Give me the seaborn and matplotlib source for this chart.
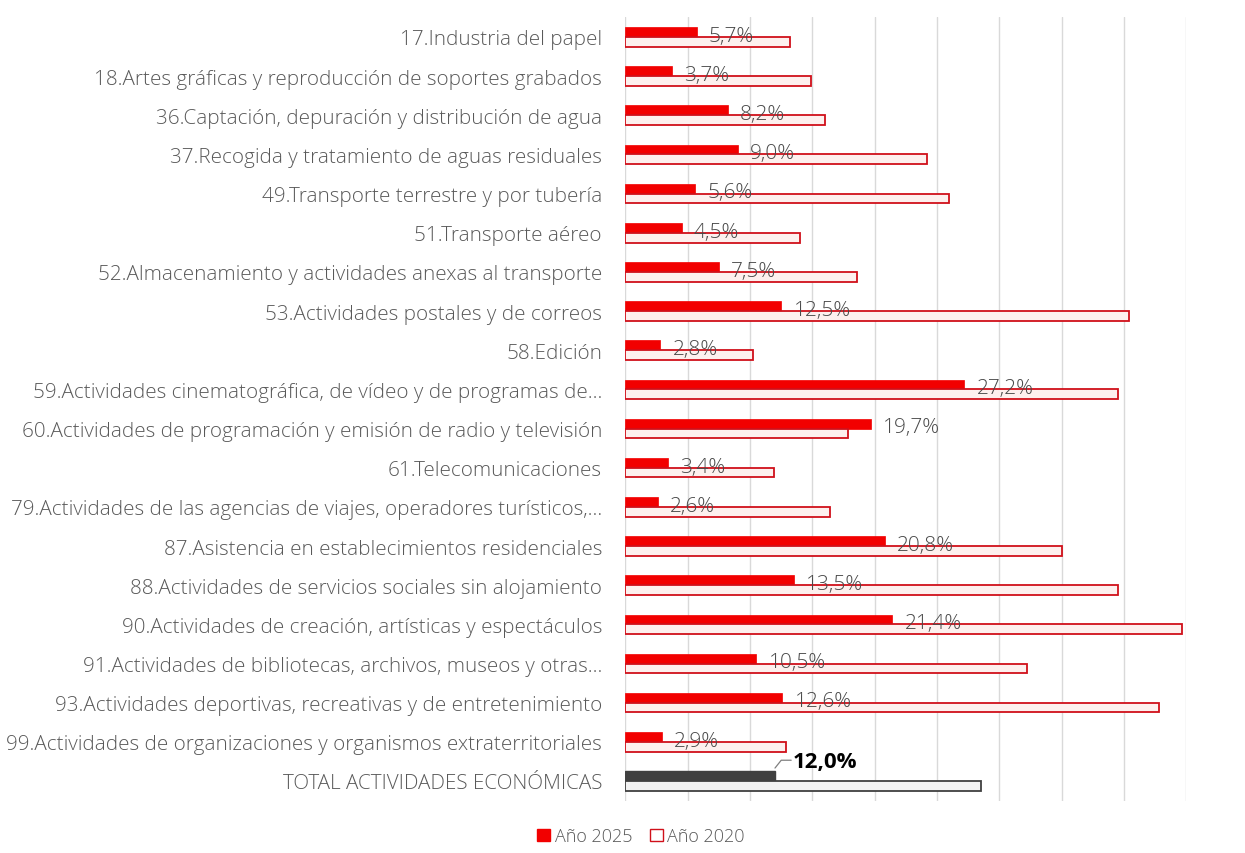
import matplotlib
matplotlib.use("Agg")
import matplotlib.pyplot as plt
import seaborn as sns
import pandas as pd
from matplotlib.patches import Patch

categories = [
    "17.Industria del papel",
    "18.Artes gráficas y reproducción de soportes grabados",
    "36.Captación, depuración y distribución de agua",
    "37.Recogida y tratamiento de aguas residuales",
    "49.Transporte terrestre y por tubería",
    "51.Transporte aéreo",
    "52.Almacenamiento y actividades anexas al transporte",
    "53.Actividades postales y de correos",
    "58.Edición",
    "59.Actividades cinematográfica, de vídeo y de programas de...",
    "60.Actividades de programación y emisión de radio y televisión",
    "61.Telecomunicaciones",
    "79.Actividades de las agencias de viajes, operadores turísticos,...",
    "87.Asistencia en establecimientos residenciales",
    "88.Actividades de servicios sociales sin alojamiento",
    "90.Actividades de creación, artísticas y espectáculos",
    "91.Actividades de bibliotecas, archivos, museos y otras...",
    "93.Actividades deportivas, recreativas y de entretenimiento",
    "99.Actividades de organizaciones y organismos extraterritoriales",
    "TOTAL ACTIVIDADES ECONÓMICAS",
]
values_2025 = [5.7, 3.7, 8.2, 9.0, 5.6, 4.5, 7.5, 12.5, 2.8, 27.2,
               19.7, 3.4, 2.6, 20.8, 13.5, 21.4, 10.5, 12.6, 2.9, 12.0]
values_2020 = [13.2, 14.9, 16.0, 24.2, 26.0, 14.0, 18.6, 40.4, 10.2, 39.5,
               17.9, 11.9, 16.4, 35.0, 39.5, 44.7, 32.2, 42.8, 12.9, 28.5]
series_names = ["Año 2025", "Año 2020"]
x_ticks = [0, 5, 10, 15, 20, 25, 30, 35, 40, 45]

df = pd.DataFrame({
    "cat": categories * 2,
    "val": values_2025 + values_2020,
    "serie": [series_names[0]] * len(categories) + [series_names[1]] * len(categories),
})

sns.set_theme(style="white")
plt.rcParams['font.family'] = ['Open Sans', 'DejaVu Sans']

RED = "#f20000"
EDGE = "#d0101a"
LIGHT = "#fdf0ee"
DARK = "#404040"
GREY_TXT = "#595959"

fig = plt.figure(figsize=(12.45, 8.54), dpi=100)
ax = fig.add_axes([0.5024, 0.0614, 0.4503, 0.9171])

sns.barplot(data=df, y="cat", x="val", hue="serie", orient="h",
            palette=[RED, LIGHT], width=0.5, dodge=True, ax=ax,
            legend=False, saturation=1)

n = len(categories)
bars25 = ax.containers[0]
bars20 = ax.containers[1]
for i, (b25, b20) in enumerate(zip(bars25, bars20)):
    if i == n - 1:
        b25.set_facecolor(DARK)
        b25.set_edgecolor(DARK)
        b20.set_facecolor("#f2f2f2")
        b20.set_edgecolor(DARK)
        b20.set_linewidth(1.3)
    else:
        b25.set_facecolor(RED)
        b25.set_edgecolor(RED)
        b25.set_linewidth(0.5)
        b20.set_facecolor(LIGHT)
        b20.set_edgecolor(EDGE)
        b20.set_linewidth(1.3)

for i, v in enumerate(values_2025):
    txt = f"{v:.1f}%".replace(".", ",")
    if i == n - 1:
        ax.plot([v, v + 0.5, v + 1.3], [i - 0.33, i - 0.53, i - 0.53],
                color="#7f7f7f", lw=0.9, zorder=5)
        ax.text(v + 1.4, i - 0.5, txt, ha="left", va="center",
                fontsize=16, fontweight="bold", color="#000000", zorder=6)
    else:
        ax.text(v + 1.0, i - 0.03, txt, ha="left", va="center",
                fontsize=15, fontweight="light", color="#4a4a4a", zorder=6)

ax.set_xlim(0, 45)
ax.set_ylim(n - 0.5, -0.5)
ax.set_xticks(x_ticks)
ax.set_xticklabels([])
ax.xaxis.grid(True, color="#d9d9d9", lw=1.0)
ax.set_axisbelow(True)
ax.tick_params(axis="y", length=0, pad=17, labelsize=14.9, labelcolor=GREY_TXT)
for lab in ax.get_yticklabels():
    lab.set_fontweight("light")
ax.tick_params(axis="x", length=0)
ax.set_xlabel("")
ax.set_ylabel("")
for s in ax.spines.values():
    s.set_visible(False)

handles = [Patch(facecolor=RED, edgecolor=RED),
           Patch(facecolor="white", edgecolor=EDGE, linewidth=1.0)]
leg = fig.legend(handles, series_names, loc="lower center", bbox_to_anchor=(0.515, -0.01),
           ncol=2, frameon=False, handlelength=0.7, handleheight=0.7,
           handletextpad=0.25, columnspacing=1.0, fontsize=13,
           labelcolor=GREY_TXT)
for t in leg.get_texts():
    t.set_fontweight("light")

fig.savefig("out.png", dpi=100)
